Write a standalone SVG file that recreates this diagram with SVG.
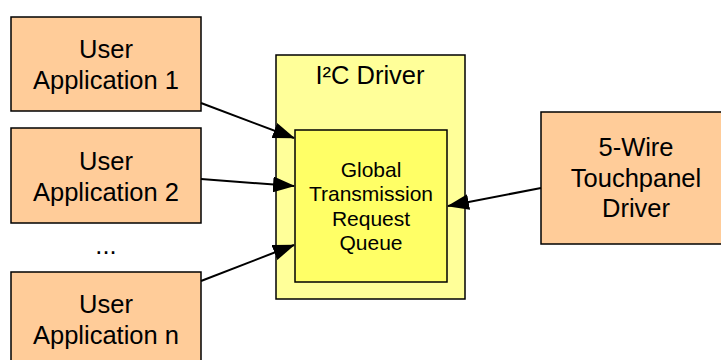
<svg xmlns="http://www.w3.org/2000/svg" width="721" height="360" viewBox="0 0 721 360">
<style>
.app{fill:#FFCC99;stroke:#000;stroke-width:1.5}
.outer{fill:#FFFF99;stroke:#000;stroke-width:1.5}
.inner{fill:#FFFF66;stroke:#000;stroke-width:1.5}
text{font-family:"Liberation Sans",Arial,sans-serif;fill:#000;text-anchor:middle}
.big{font-size:25.5px}
.small{font-size:21px}
.conn{stroke:#000;stroke-width:2;fill:none}
</style>
<defs>
<marker id="ah" markerWidth="22" markerHeight="16" refX="21" refY="8" orient="auto" markerUnits="userSpaceOnUse">
<path d="M0,0 L22,8 L0,16 Z" fill="#000"/>
</marker>
</defs>
<rect width="721" height="360" fill="#fff"/>
<g id="app1"><rect class="app" x="11" y="17" width="190" height="94"/><text class="big" x="106" y="58">User</text><text class="big" x="106" y="89">Application 1</text></g>
<g id="app2"><rect class="app" x="11" y="128" width="190" height="95"/><text class="big" x="106" y="170">User</text><text class="big" x="106" y="201">Application 2</text></g>
<g id="dots"><text class="big" x="106" y="254">...</text></g>
<g id="appn"><rect class="app" x="11" y="272" width="190" height="100"/><text class="big" x="106" y="313">User</text><text class="big" x="106" y="344">Application n</text></g>
<g id="i2c"><rect class="outer" x="276" y="55" width="189" height="244"/><text class="big" x="370" y="84">I²C Driver</text></g>
<g id="queue"><rect class="inner" x="295" y="130" width="152" height="152"/><text class="small" x="371" y="177">Global</text><text class="small" x="371" y="201">Transmission</text><text class="small" x="371" y="226">Request</text><text class="small" x="371" y="250">Queue</text></g>
<g id="touch"><rect class="app" x="541" y="112" width="190" height="132"/><text class="big" x="636" y="156">5-Wire</text><text class="big" x="636" y="187">Touchpanel</text><text class="big" x="636" y="217">Driver</text></g>
<g id="connectors">
<line class="conn" x1="201" y1="103" x2="294" y2="138" marker-end="url(#ah)"/>
<line class="conn" x1="201" y1="179" x2="294" y2="186" marker-end="url(#ah)"/>
<line class="conn" x1="201" y1="281" x2="294" y2="245" marker-end="url(#ah)"/>
<line class="conn" x1="541" y1="188" x2="448" y2="206" marker-end="url(#ah)"/>
</g>
</svg>
